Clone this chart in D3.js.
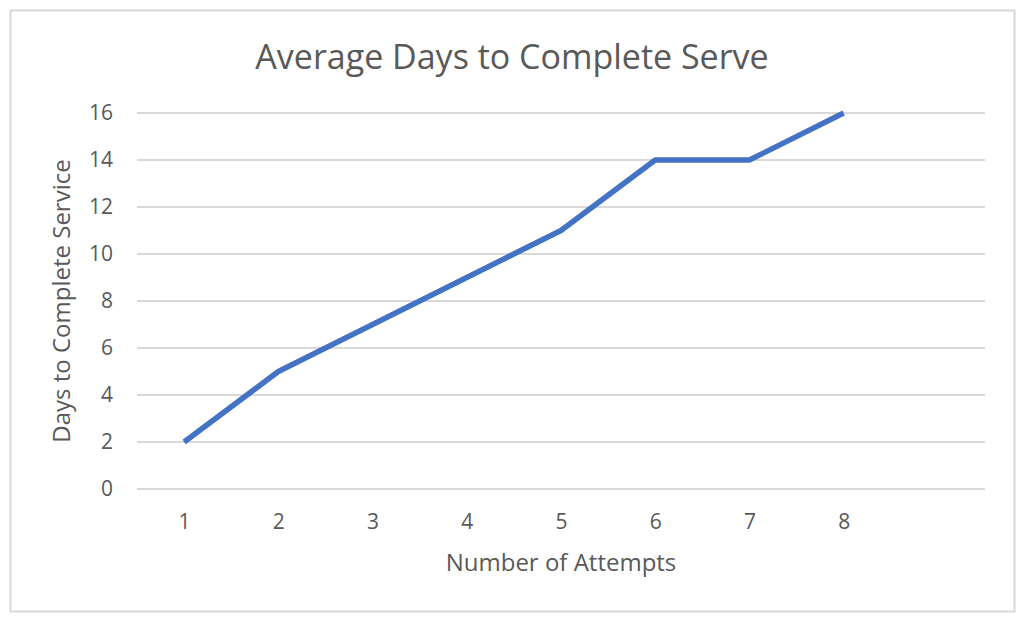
<!DOCTYPE html>
<html>
<head>
<meta charset="utf-8">
<script src="https://cdn.jsdelivr.net/npm/d3@7"></script>
<style>
	body { margin: 0; background: #fff; }
	text { font-family: "Open Sans", sans-serif; fill: #595959; }
</style>
</head>
<body>
<svg class="chart"></svg>
<script>
// chart data
var attempts = [1, 2, 3, 4, 5, 6, 7, 8];
var days = [2, 5, 7, 9, 11, 14, 14, 16];
var yTicks = [0, 2, 4, 6, 8, 10, 12, 14, 16];

var W = 1024, H = 622;
var plotLeft = 137, plotRight = 985, plotTop = 113, plotBottom = 489;

var svg = d3.select(".chart")
	.attr("width", W)
	.attr("height", H);

// outer frame
svg.append("rect")
	.attr("x", 10.5).attr("y", 10.5)
	.attr("width", 1004).attr("height", 601)
	.attr("fill", "#fff")
	.attr("stroke", "#d9d9d9")
	.attr("stroke-width", 2);

// x has room for 9 categories, only 8 used
var x = d3.scaleLinear()
	.domain([0.5, 9.5])
	.range([plotLeft, plotRight]);
var y = d3.scaleLinear()
	.domain([0, 16])
	.range([plotBottom, plotTop]);

// gridlines
svg.append("g")
	.selectAll("line")
	.data(yTicks)
.enter().append("line")
	.attr("x1", plotLeft).attr("x2", plotRight)
	.attr("y1", function(d) { return y(d); })
	.attr("y2", function(d) { return y(d); })
	.attr("stroke", "#d9d9d9")
	.attr("stroke-width", 2);

// y axis labels
var yAxis = svg.append("g")
	.attr("transform", "translate(" + plotLeft + ",0)")
	.call(d3.axisLeft(y).tickValues(yTicks).tickSize(0).tickPadding(24));
yAxis.select(".domain").remove();
yAxis.selectAll("text").style("font-size", "21px");

// x axis labels
var xAxis = svg.append("g")
	.attr("transform", "translate(0," + plotBottom + ")")
	.call(d3.axisBottom(x).tickValues(attempts).tickSize(0).tickPadding(25));
xAxis.select(".domain").remove();
xAxis.selectAll("text").style("font-size", "21px");

// the line
var line = d3.line()
	.x(function(d, i) { return x(attempts[i]); })
	.y(function(d) { return y(d); });

svg.append("path")
	.datum(days)
	.attr("d", line)
	.attr("fill", "none")
	.attr("stroke", "#4472c4")
	.attr("stroke-width", 5.5)
	.attr("stroke-linejoin", "round");

// titles
svg.append("text")
	.attr("x", 512).attr("y", 69)
	.attr("text-anchor", "middle")
	.style("font-size", "34px")
	.text("Average Days to Complete Serve");

svg.append("text")
	.attr("x", 561).attr("y", 571)
	.attr("text-anchor", "middle")
	.style("font-size", "24px")
	.text("Number of Attempts");

svg.append("text")
	.attr("transform", "translate(70,301) rotate(-90)")
	.attr("text-anchor", "middle")
	.style("font-size", "24px")
	.text("Days to Complete Service");
</script>
</body>
</html>
